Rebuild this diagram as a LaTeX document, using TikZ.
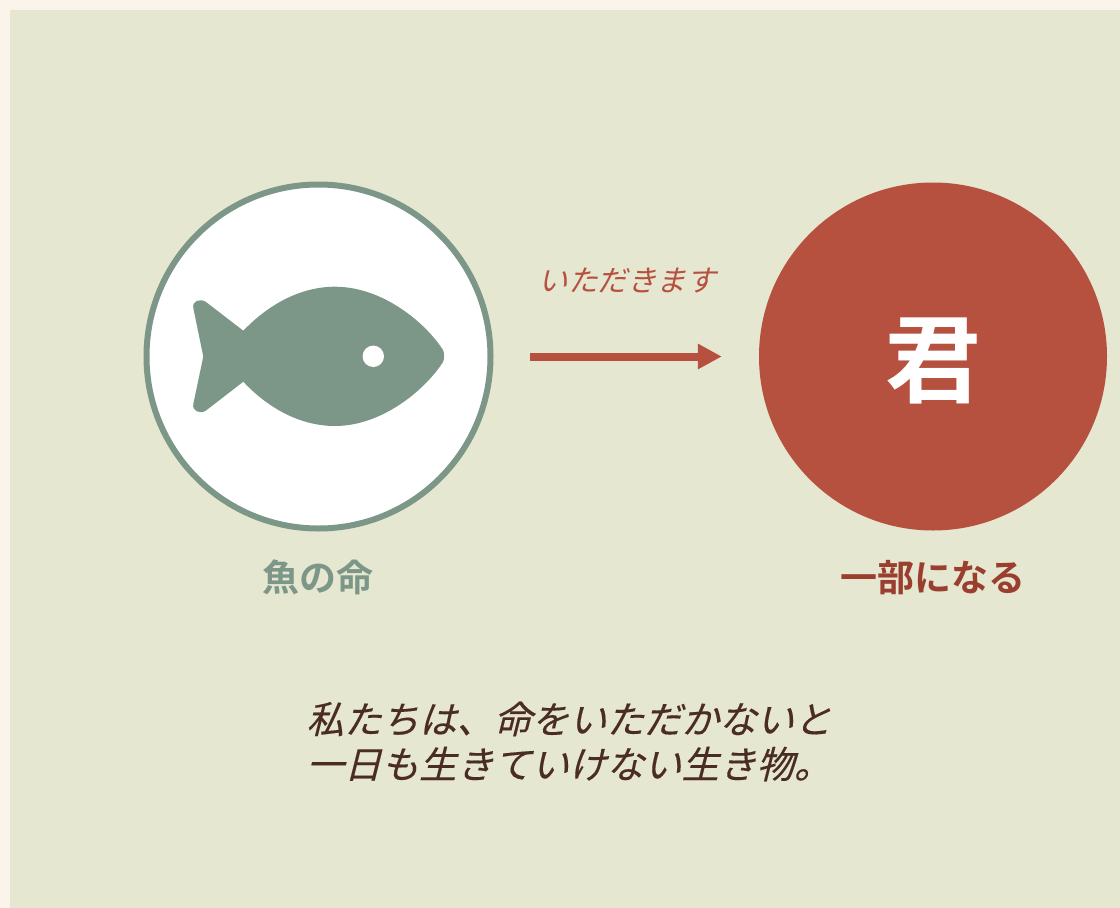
\documentclass[tikz,border=0pt]{standalone}
\usepackage{fontspec}
\newfontfamily\jpbold{Noto Sans CJK JP Bold}
\newfontfamily\jpslant[FakeSlant=0.25]{Noto Sans CJK JP}
\newfontfamily\jpheavy[FakeSlant=0.25,FakeBold=0.3]{Noto Sans CJK JP}
\usetikzlibrary{positioning}
\usetikzlibrary{arrows.meta}
\definecolor{paper}{HTML}{FAF4EA}
\definecolor{panel}{HTML}{E6E7D0}
\definecolor{sage}{HTML}{7C9788}
\definecolor{brick}{HTML}{B65140}
\definecolor{darkbrick}{HTML}{9A3F2F}
\definecolor{ink}{HTML}{4A2C25}
\tikzstyle{lifecircle} = [circle, draw=sage, line width=6pt, fill=white, minimum size=344pt, inner sep=0pt]
\tikzstyle{youcircle} = [circle, fill=brick, minimum size=348pt, inner sep=0pt]
\tikzstyle{caption} = [font=\jpbold\fontsize{37}{37}\selectfont, inner sep=0pt]
\tikzstyle{arrow} = [brick, line width=8pt, -{Triangle[length=24pt,width=24pt]}, shorten <=36.5pt, shorten >=37pt]

\begin{document}
\begin{tikzpicture}[x=1pt,y=-1pt]
\useasboundingbox (0,0) rectangle (1120,908);
\fill[paper] (0,0) rectangle (1120,908);
\fill[panel] (10,10) rectangle (1120,908);

\node (life) [lifecircle] at (318.5,356.5) {};
\node (you) [youcircle] at (933,356.5) {};
\node (youtext) [inner sep=0pt, text=white, font=\jpbold\fontsize{96}{96}\selectfont] at (933,360.5) {君};
\node (lifelabel) [caption, text=sage] at (318,577.5) {魚の命};
\node (youlabel) [caption, text=darkbrick] at (932.5,577.5) {一部になる};
\node (eat) [inner sep=0pt, text=brick, font=\jpslant\fontsize{29.5}{30}\selectfont] at (627,281) {いただきます};
\node (message) [inner sep=0pt, align=left, text=ink, font=\jpheavy\fontsize{37.5}{45}\selectfont] at (569,741.5) {私たちは、命をいただかないと\\一日も生きていけない生き物。};

\draw [arrow] (life) -- (you);

% fish
\fill[sage] (243.3,330.7) .. controls (268,305) and (300,286.7) .. (335,286.7)
  .. controls (382,286.7) and (425,322) .. (443,350)
  .. controls (444.5,353) and (444.5,359) .. (443,362)
  .. controls (425,390) and (382,426) .. (335,426)
  .. controls (300,426) and (268,408) .. (243.3,381.7)
  -- (206,410.5) .. controls (200,414.5) and (192,411) .. (193.3,404)
  -- (203.3,356.5) -- (193.3,308)
  .. controls (192,301) and (200,298) .. (206,302) -- cycle;
\fill[white] (373.3,356.3) circle (10.7);
\end{tikzpicture}
\end{document}
